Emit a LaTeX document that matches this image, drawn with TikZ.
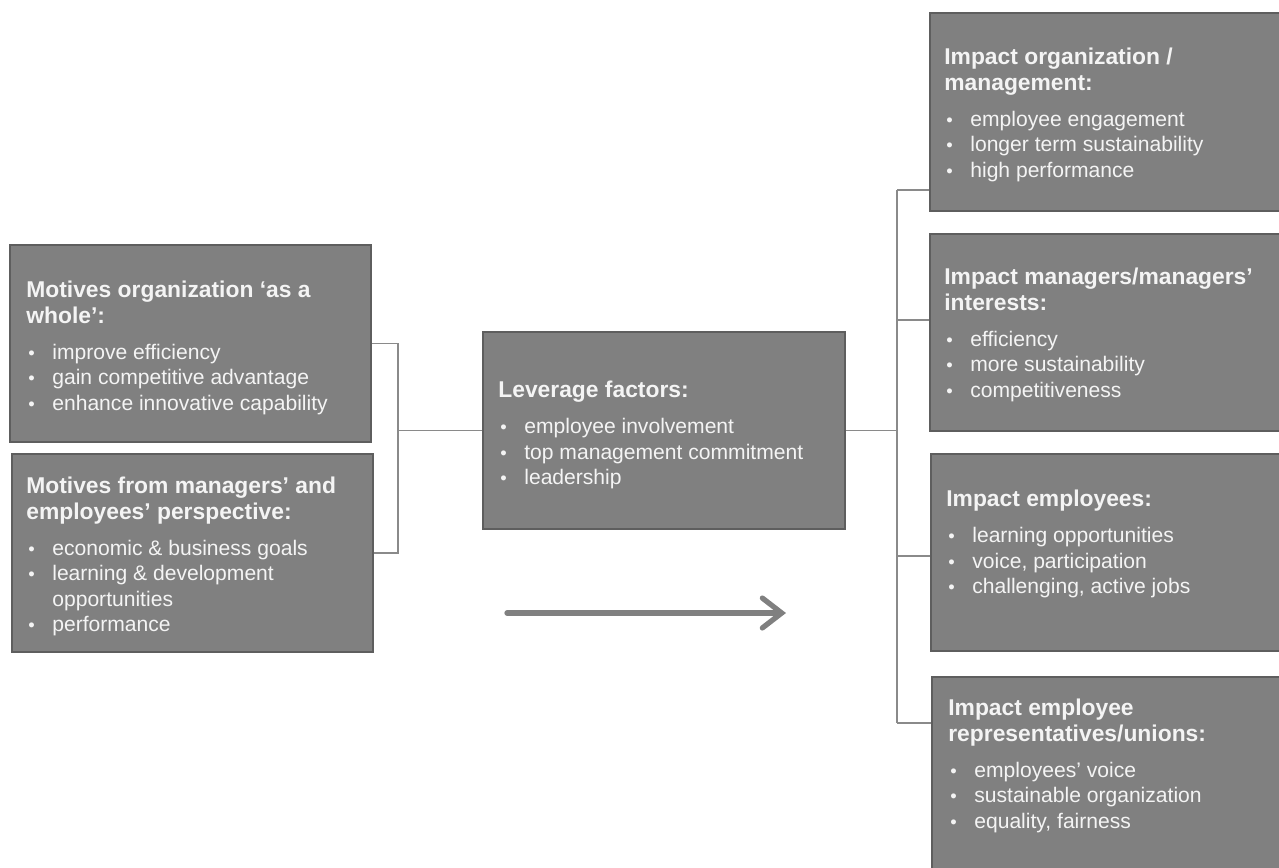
\documentclass[tikz,border=0pt]{standalone}
\usepackage{fontspec}
\setmainfont{Liberation Sans}
\usetikzlibrary{arrows.meta, positioning, fit, calc}

\definecolor{boxfill}{HTML}{808080}
\definecolor{boxline}{HTML}{5E5E5E}
\definecolor{linkgray}{HTML}{8A8A8A}
\definecolor{txtwhite}{HTML}{F4F4F4}

\newcommand{\bul}{\makebox[0.52cm][l]{\hspace{0.04cm}\fontsize{10.5}{14.5}\selectfont•}}
\newcommand{\hd}[1]{{\fontsize{13}{14.5}\selectfont\bfseries #1}}

\tikzset{
  box/.style={draw=boxline, fill=boxfill, line width=1.6pt, inner sep=0pt},
  boxtext/.style={anchor=north west, inner sep=0pt, align=left, text=txtwhite,
    font=\fontsize{12}{14.5}\selectfont},
  link/.style={draw=linkgray, line width=1pt},
  flow/.style={draw=boxfill, line width=3pt, line cap=round,
    -{Straight Barb[length=11pt, width=17pt, line cap=round]}}
}

\begin{document}
\begin{tikzpicture}[x=0.02cm, y=-0.02cm]
\clip (0,0) rectangle (1279,867);

% Define boxes
\node[box, fit={(10,245) (371,442)}] (motorg) {};
\node[box, fit={(12,454) (373,652)}] (motemp) {};
\node[box, fit={(483,332) (845,529)}] (lever) {};
\node[box, fit={(930,13) (1300,211)}] (imporg) {};
\node[box, fit={(930,234) (1300,431)}] (impman) {};
\node[box, fit={(931,454) (1300,651)}] (impemp) {};
\node[box, fit={(932,677) (1300,890)}] (imprep) {};

% Box texts
\node[boxtext] (motorgtxt) at (26,281) {\hd{Motives organization ‘as a}\\\hd{whole’:}\\[6pt]
  \bul improve efficiency\\\bul gain competitive advantage\\\bul enhance innovative capability};
\node[boxtext] (motemptxt) at (26,477) {\hd{Motives from managers’ and}\\\hd{employees’ perspective:}\\[6pt]
  \bul economic \& business goals\\\bul learning \& development\\\hspace*{0.52cm}opportunities\\\bul performance};
\node[boxtext] (levertxt) at (498,381) {\hd{Leverage factors:}\\[6pt]
  \bul employee involvement\\\bul top management commitment\\\bul leadership};
\node[boxtext] (imporgtxt) at (944,48) {\hd{Impact organization /}\\\hd{management:}\\[6pt]
  \bul employee engagement\\\bul longer term sustainability\\\bul high performance};
\node[boxtext] (impmantxt) at (944,268) {\hd{Impact managers/managers’}\\\hd{interests:}\\[6pt]
  \bul efficiency\\\bul more sustainability\\\bul competitiveness};
\node[boxtext] (impemptxt) at (946,490) {\hd{Impact employees:}\\[6pt]
  \bul learning opportunities\\\bul voice, participation\\\bul challenging, active jobs};
\node[boxtext] (impreptxt) at (948,699) {\hd{Impact employee}\\\hd{representatives/unions:}\\[6pt]
  \bul employees’ voice\\\bul sustainable organization\\\bul equality, fairness};

% Connectors
\coordinate (ljoin) at (398,435);
\draw[link] (motorg.east) -| (ljoin) |- (motemp.east);
\draw[link] (lever.west) -- (lever.west -| ljoin);

\coordinate (rtop) at (897,190);
\coordinate (rbot) at (897,723);
\draw[link] (rtop) -- (rbot);
\draw[link] (lever.east) -- (lever.east -| rtop);
\foreach \yy/\tgt in {190/imporg, 320/impman, 556/impemp, 723/imprep}{
  \path (897,\yy) coordinate (stub);
  \draw[link] (stub) -- (stub -| \tgt.west);
}

\coordinate (flowa) at (507,613);
\coordinate (flowb) at (786,613);
\draw[flow] (flowa) -- (flowb);

\end{tikzpicture}
\end{document}
